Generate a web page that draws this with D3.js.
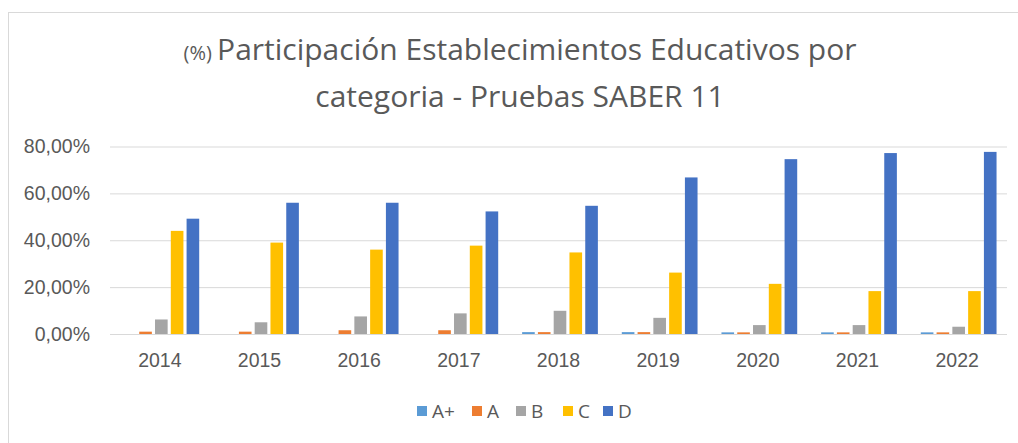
<!DOCTYPE html>
<html lang="es">
<head>
<meta charset="UTF-8">
<title>Participación Establecimientos Educativos por categoria</title>
<script src="https://d3js.org/d3.v7.min.js"></script>
<style>
  body { margin: 0; background: #fff; }
  svg { display: block; }
</style>
</head>
<body>
<div id="chart"></div>
<script>
// data
const years = ["2014", "2015", "2016", "2017", "2018", "2019", "2020", "2021", "2022"];
const categories = ["A+", "A", "B", "C", "D"];
const valuesAplus = [0, 0, 0, 0, 0.008, 0.008, 0.007, 0.007, 0.007];
const valuesA     = [0.010, 0.010, 0.016, 0.016, 0.008, 0.008, 0.007, 0.007, 0.007];
const valuesB     = [0.062, 0.050, 0.075, 0.088, 0.099, 0.069, 0.038, 0.038, 0.031];
const valuesC     = [0.440, 0.390, 0.360, 0.377, 0.348, 0.262, 0.214, 0.183, 0.183];
const valuesD     = [0.492, 0.560, 0.560, 0.523, 0.547, 0.668, 0.746, 0.772, 0.777];
const yTicks = [0, 0.2, 0.4, 0.6, 0.8];

const series = [valuesAplus, valuesA, valuesB, valuesC, valuesD];
const colors = ["#5B9BD5", "#ED7D31", "#A5A5A5", "#FFC000", "#4472C4"];

const width = 1018, height = 443;
const margin = {top: 146.5, right: 11, bottom: 109, left: 110};

const svg = d3.select("#chart").append("svg")
  .attr("width", width)
  .attr("height", height)
  .style("font-family", "'Open Sans', sans-serif");

// chart frame
svg.append("rect")
  .attr("x", 8.5).attr("y", 12.5)
  .attr("width", width + 10).attr("height", height + 10)
  .attr("fill", "none").attr("stroke", "#d9d9d9");

// title
const title = svg.append("text")
  .attr("text-anchor", "middle")
  .attr("fill", "#595959");
const l1 = title.append("tspan").attr("x", 520).attr("y", 60);
l1.append("tspan").attr("font-size", 20).text("(%) ");
l1.append("tspan").attr("font-size", 30).text("Participación Establecimientos Educativos por");
title.append("tspan").attr("x", 520).attr("y", 107).attr("font-size", 30)
  .text("categoria - Pruebas SABER 11");

const x0 = d3.scaleBand()
  .domain(years)
  .range([margin.left, width - margin.right])
  .paddingInner(0.24)
  .paddingOuter(0.12);

const x1 = d3.scaleBand()
  .domain(categories)
  .range([0, x0.bandwidth()])
  .paddingInner(0.2);

const y = d3.scaleLinear()
  .domain([0, 0.8])
  .range([height - margin.bottom, margin.top]);

const fmt = v => d3.format(".2f")(v * 100).replace(".", ",") + "%";

// gridlines + y labels
const yAxis = svg.append("g")
  .attr("transform", `translate(${margin.left},0)`)
  .call(d3.axisLeft(y).tickValues(yTicks).tickFormat(fmt)
    .tickSize(-(width - margin.left - margin.right)).tickPadding(20));
yAxis.select(".domain").remove();
yAxis.selectAll(".tick line").attr("stroke", "#d9d9d9");
yAxis.selectAll(".tick text")
  .attr("fill", "#595959")
  .attr("font-size", 19.5);

// bars
const groups = svg.append("g").selectAll("g")
  .data(years)
  .join("g")
  .attr("transform", d => `translate(${x0(d) + 1.5},0)`);

groups.selectAll("rect")
  .data((d, i) => categories.map((c, k) => ({cat: c, k: k, value: series[k][i]})))
  .join("rect")
  .attr("x", d => x1(d.cat))
  .attr("width", x1.bandwidth())
  .attr("y", d => y(d.value))
  .attr("height", d => y(0) - y(d.value))
  .attr("fill", d => colors[d.k]);

// x labels
const xAxis = svg.append("g")
  .attr("transform", `translate(0,${height - margin.bottom})`)
  .call(d3.axisBottom(x0).tickSize(0).tickPadding(19));
xAxis.select(".domain").remove();
xAxis.selectAll(".tick text")
  .attr("fill", "#595959")
  .attr("font-size", 19.5);

// legend
const legendX = [417, 472, 516, 563, 603];
const legend = svg.append("g").selectAll("g")
  .data(categories)
  .join("g")
  .attr("transform", (d, i) => `translate(${legendX[i]},406)`);
legend.append("rect")
  .attr("width", 10).attr("height", 10)
  .attr("fill", (d, i) => colors[i]);
legend.append("text")
  .attr("x", 15).attr("y", 5)
  .attr("dy", "0.35em")
  .attr("fill", "#595959")
  .attr("font-size", 19)
  .text(d => d);
</script>
</body>
</html>
